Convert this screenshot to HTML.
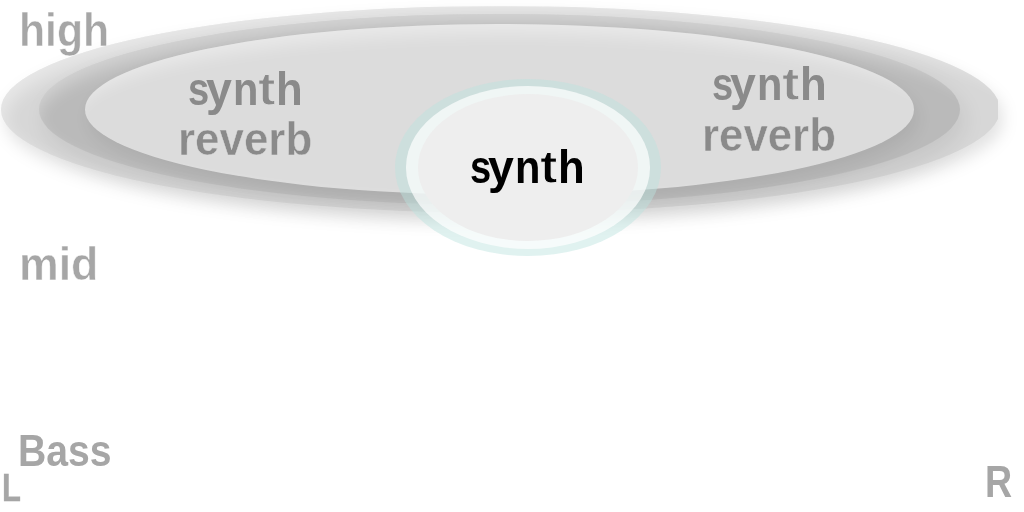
<!DOCTYPE html>
<html>
<head>
<meta charset="utf-8">
<style>
html,body{margin:0;padding:0;background:#fff;}
body{width:1024px;height:512px;position:relative;overflow:hidden;font-family:"Liberation Sans",sans-serif;font-weight:bold;}
.el{position:absolute;border-radius:50%;}
#w1{position:absolute;left:0;top:0;width:1024px;height:512px;filter:drop-shadow(4px 9px 8px rgba(0,0,0,0.115));}
.big{overflow:hidden;}
.big i{position:absolute;display:block;top:9px;height:100%;border-radius:50%;filter:blur(8.5px);}
#e1{left:0.5px;top:6.3px;width:999px;height:207.2px;background:#d7d7d7;clip-path:inset(0 1.5px 0 0);}
#e1 i{left:4.07px;width:1021.86px;box-shadow:0 0 0 400px rgba(255,255,255,0.425);}
#e2{left:38.7px;top:14px;width:921px;height:191px;background:#bababa;box-shadow:5px 11px 22px rgba(0,0,0,0.08);}
#e2 i{left:-3.12px;width:951.23px;box-shadow:0 0 0 400px rgba(255,255,255,0.377);}
#e3{left:84.6px;top:23.8px;width:829.4px;height:171.6px;background:#dcdcdc;box-shadow:4px 9px 17px rgba(0,0,0,0.07);}
#e3 i{left:-11.4px;width:868.2px;box-shadow:0 0 0 400px rgba(255,255,255,0.4);}
#c1{left:395.2px;top:79.2px;width:265.4px;height:176.4px;background:rgba(187,226,222,0.457);}
#c2{left:405.5px;top:86.25px;width:244.8px;height:162.75px;background:rgba(255,255,255,0.7);}
#c3{left:417.75px;top:94px;width:220.5px;height:146.6px;background:#eeeeee;}
.t{position:absolute;white-space:nowrap;line-height:1;transform-origin:0 0;}
.w span{position:absolute;top:0;display:block;transform-origin:0 0;-webkit-text-stroke:0 transparent;}
.w span.tt{-webkit-text-stroke:1.1px #dcdcdc;}
#t_c span.tt{-webkit-text-stroke:1.1px #eee;}
.lab{color:#a6a6a6;-webkit-text-stroke:0.5px #fff;}
.rv{color:#8a8a8a;-webkit-text-stroke:0.5px #dcdcdc;}
</style>
</head>
<body>
<div class="t lab" id="t_high" style="left:18.5px;top:6.9px;transform:scale(0.917,1);font-size:46.6px;">high</div>
<div id="w1"><div class="el big" id="e1"><i></i></div></div>
<div class="el big" id="e2"><i></i></div>
<div class="el big" id="e3"><i></i></div>
<div class="el" id="c1"></div>
<div class="el" id="c2"></div>
<div class="el" id="c3"></div>
<div class="t rv w" id="t_ls" style="left:189.4px;top:65.7px;font-size:46.6px;"><span style="left:-1.33px;transform:scaleX(0.818)">s</span><span style="left:16.93px;transform:scaleX(0.998)">y</span><span style="left:43.51px;transform:scaleX(0.893)">n</span><span class="tt" style="left:69.1px;transform:scaleX(1.127)">t</span><span style="left:86.75px;transform:scaleX(0.9385)">h</span></div>
<div class="t rv" id="t_lr" style="left:177.9px;top:116.2px;transform:scale(0.942,1);font-size:46.6px;">reverb</div>
<div class="t rv w" id="t_rs" style="left:713.3px;top:61.1px;font-size:46.6px;"><span style="left:-1.33px;transform:scaleX(0.818)">s</span><span style="left:16.93px;transform:scaleX(0.998)">y</span><span style="left:43.51px;transform:scaleX(0.893)">n</span><span class="tt" style="left:69.1px;transform:scaleX(1.127)">t</span><span style="left:86.75px;transform:scaleX(0.9385)">h</span></div>
<div class="t rv" id="t_rr" style="left:701.8px;top:111.6px;transform:scale(0.94,1);font-size:46.6px;">reverb</div>
<div class="t w" id="t_c" style="left:471.3px;top:143.75px;font-size:46.6px;color:#000;"><span style="left:-1.33px;transform:scaleX(0.818)">s</span><span style="left:16.93px;transform:scaleX(0.998)">y</span><span style="left:43.51px;transform:scaleX(0.893)">n</span><span class="tt" style="left:69.1px;transform:scaleX(1.127)">t</span><span style="left:86.75px;transform:scaleX(0.9385)">h</span></div>
<div class="t lab" id="t_mid" style="left:18.6px;top:240.75px;transform:scale(0.958,1);font-size:46.6px;">mid</div>
<div class="t lab" id="t_bass" style="left:17.6px;top:428.7px;transform:scale(0.84,0.94);font-size:46.6px;-webkit-text-stroke:0 transparent;">Bass</div>
<div class="t lab" id="t_L" style="left:1.75px;top:467.9px;transform:scale(0.665,0.848);font-size:46.6px;-webkit-text-stroke:0.5px #a6a6a6;">L</div>
<div class="t lab" id="t_R" style="left:984.6px;top:459.1px;transform:scale(0.807,0.97);font-size:46.6px;-webkit-text-stroke:0 transparent;">R</div>
</body>
</html>
